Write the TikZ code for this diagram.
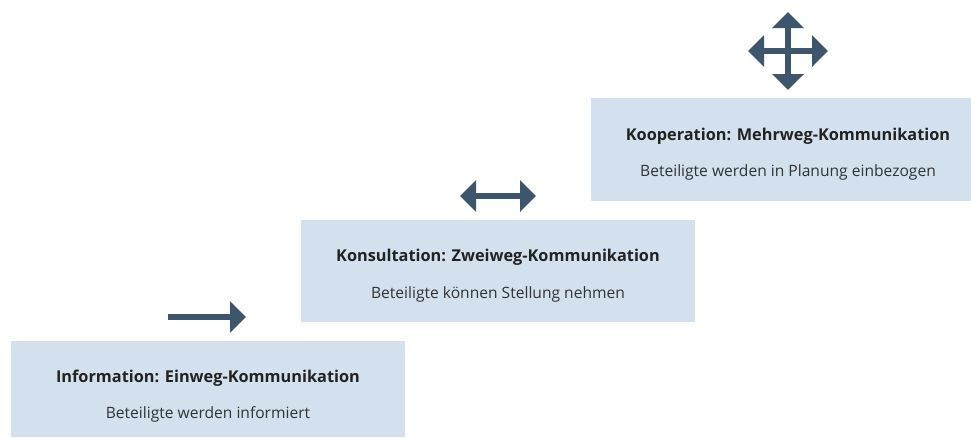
\documentclass[tikz,border=0pt]{standalone}
\usepackage{fontspec}
\setmainfont{Open Sans}
\usetikzlibrary{arrows.meta}
\definecolor{boxfill}{HTML}{D2E1ED}
\definecolor{arrowc}{HTML}{3D566E}
\definecolor{textc}{HTML}{222222}
\definecolor{subc}{HTML}{333333}
\tikzset{
  stepbox/.style={rectangle, fill=boxfill, draw=none, anchor=north west, inner sep=0pt},
  titletxt/.style={anchor=base, inner sep=0pt, text=textc, font=\fontsize{16.3}{19}\selectfont\bfseries},
  subtxt/.style={anchor=base, inner sep=0pt, text=subc, font=\fontsize{15.6}{18}\selectfont},
  icon/.style={draw=arrowc, line width=6pt},
  headR/.style={-{Triangle[length=16pt,width=31pt]}},
  headLR/.style={{Triangle[length=16pt,width=31pt]}-{Triangle[length=16pt,width=31pt]}},
}
\begin{document}
\begin{tikzpicture}[x=1pt,y=-1pt]
\useasboundingbox (0,0) rectangle (971,437);
% boxes
\node[stepbox, minimum width=394pt, minimum height=96pt] (b1) at (11,341) {};
\node[stepbox, minimum width=394pt, minimum height=102pt] (b2) at (301,220) {};
\node[stepbox, minimum width=380pt, minimum height=103pt] (b3) at (591,98) {};
% texts
\node[titletxt] (t1) at (208,382) {Information: Einweg-Kommunikation};
\node[subtxt] (s1) at (208,418) {Beteiligte werden informiert};
\node[titletxt] (t2) at (498,261) {Konsultation: Zweiweg-Kommunikation};
\node[subtxt] (s2) at (498,298) {Beteiligte können Stellung nehmen};
\node[titletxt] (t3) at (788,140) {Kooperation: Mehrweg-Kommunikation};
\node[subtxt] (s3) at (788,176) {Beteiligte werden in Planung einbezogen};
% arrow 1
\coordinate (a1s) at (168,317);
\coordinate (a1e) at (246,317);
\draw[icon, headR] (a1s) -- (a1e);
% arrow 2
\coordinate (a2s) at (460,196);
\coordinate (a2e) at (536,196);
\draw[icon, headLR] (a2s) -- (a2e);
% four-way
\coordinate (c4) at (788,51);
\coordinate (c4l) at (748,51);
\coordinate (c4r) at (828,51);
\coordinate (c4t) at (788,12);
\coordinate (c4b) at (788,90);
\draw[icon, headLR] (c4l) -- (c4r);
\draw[icon, headLR] (c4t) -- (c4b);
\end{tikzpicture}
\end{document}
